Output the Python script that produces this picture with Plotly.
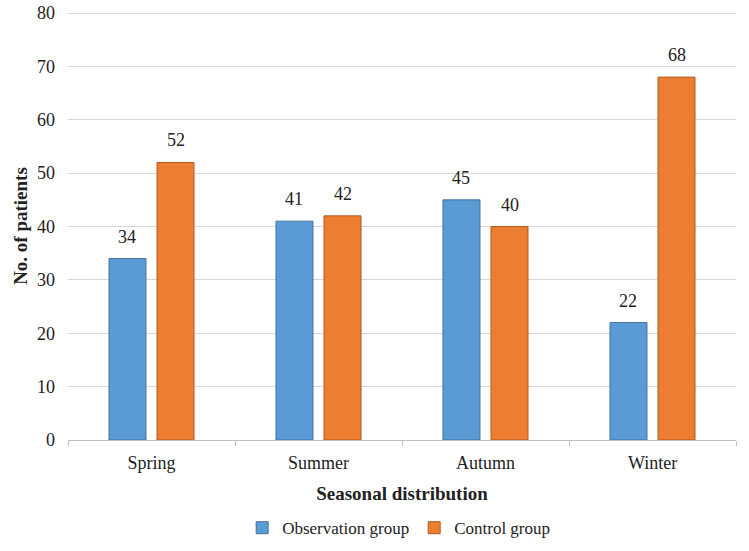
import plotly.graph_objects as go

seasons = ["Spring", "Summer", "Autumn", "Winter"]
observation = [34, 41, 45, 22]
control = [52, 42, 40, 68]
series_names = ["Observation group", "Control group"]

font_family = "Liberation Serif, Times New Roman, serif"
BARGAP = 0.425
BARGROUPGAP = 0.23

fig = go.Figure()
fig.add_trace(go.Bar(
    x=seasons, y=observation, name=series_names[0],
    marker=dict(color="#5B9BD5", line=dict(color="#41719C", width=1)),
))
fig.add_trace(go.Bar(
    x=seasons, y=control, name=series_names[1],
    marker=dict(color="#ED7D31", line=dict(color="#AE5A21", width=1)),
))

# data labels above bars
slot = (1 - BARGAP) / 2
annotations = []
for k, vals in enumerate([observation, control]):
    offset = (k - 0.5) * slot
    for i, v in enumerate(vals):
        annotations.append(dict(
            x=i + offset, y=v, xref="x", yref="y", text=str(v),
            showarrow=False, yanchor="bottom", yshift=10,
            font=dict(family=font_family, size=18, color="#222"),
        ))

fig.update_layout(
    width=749, height=551,
    margin=dict(l=68, r=13, t=12, b=111, autoexpand=False),
    paper_bgcolor="white", plot_bgcolor="white",
    barmode="group", bargap=BARGAP, bargroupgap=BARGROUPGAP,
    font=dict(family=font_family, size=18, color="#222"),
    showlegend=True,
    legend=dict(orientation="h", x=0.495, xanchor="center", y=-0.206, yanchor="middle",
                font=dict(family=font_family, size=17, color="#222"),
                traceorder="normal"),
    annotations=annotations,
)
fig.update_xaxes(
    title=dict(text="<b>Seasonal distribution</b>", font=dict(size=19), standoff=15),
    showline=True, linecolor="#bfbfbf", linewidth=1,
    ticks="outside", tickson="boundaries", ticklen=5, tickcolor="#bfbfbf",
    tickfont=dict(size=18), ticklabelstandoff=6, automargin=False,
)
fig.update_yaxes(
    title=dict(text="<b>No. of patients</b>", font=dict(size=19), standoff=4),
    range=[0, 80.2], tick0=0, dtick=10, showgrid=True, gridcolor="#d6d6d6", gridwidth=1,
    zeroline=False, showline=False, ticks="", tickfont=dict(size=18),
    ticklabelstandoff=12, automargin=False, ticklabeloverflow="allow",
)

fig.write_html("out.html", config={"displayModeBar": False},
               post_script="document.body.style.margin='0';")
